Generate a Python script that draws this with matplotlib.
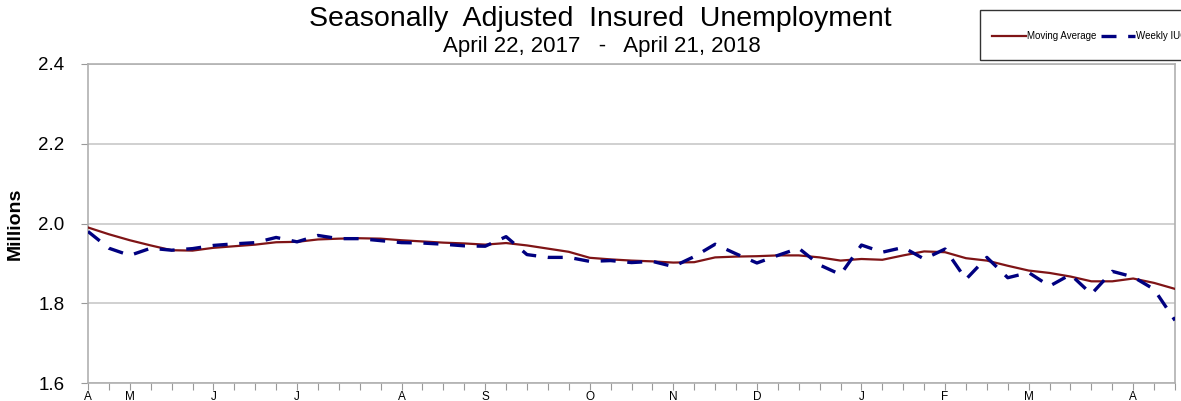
import numpy as np
import matplotlib.pyplot as plt
from matplotlib.patches import Rectangle

plt.rcParams['font.family'] = ['Liberation Sans', 'DejaVu Sans']

# weekly values, April 22 2017 .. April 21 2018 (millions)
moving_avg = [1.990, 1.973, 1.958, 1.945, 1.933, 1.932, 1.939, 1.943, 1.947, 1.953,
              1.954, 1.960, 1.962, 1.963, 1.962, 1.958, 1.955, 1.952, 1.950, 1.947,
              1.951, 1.945, 1.937, 1.929, 1.914, 1.910, 1.907, 1.905, 1.902, 1.903,
              1.915, 1.917, 1.918, 1.920, 1.920, 1.915, 1.907, 1.911, 1.909, 1.920,
              1.930, 1.928, 1.913, 1.907, 1.894, 1.882, 1.876, 1.867, 1.855, 1.855,
              1.862, 1.851, 1.836]
weekly = [1.980, 1.938, 1.920, 1.938, 1.933, 1.937, 1.945, 1.949, 1.952, 1.965,
          1.954, 1.970, 1.962, 1.962, 1.957, 1.952, 1.951, 1.948, 1.944, 1.943,
          1.967, 1.922, 1.915, 1.915, 1.905, 1.907, 1.902, 1.905, 1.892, 1.917,
          1.948, 1.924, 1.901, 1.920, 1.938, 1.896, 1.872, 1.946, 1.928, 1.940,
          1.911, 1.936, 1.860, 1.915, 1.864, 1.877, 1.843, 1.872, 1.823, 1.880,
          1.866, 1.835, 1.757]
month_weeks = [0, 2, 6, 10, 15, 19, 24, 28, 32, 37, 41, 45, 50]
month_labels = ['A', 'M', 'J', 'J', 'A', 'S', 'O', 'N', 'D', 'J', 'F', 'M', 'A']

weeks = np.arange(len(weekly))

fig = plt.figure(figsize=(11.81, 4.01), dpi=100)
ax = fig.add_axes([88/1181, 1-383/401, 1087/1181, 319/401])

ax.plot(weeks, moving_avg, color='#7f1416', lw=1.6, label='Moving Average', zorder=3)
ax.plot(weeks, weekly, color='#000080', lw=2.4, ls=(0, (4.5, 3.5)), label='Weekly IUC', zorder=4)

ax.set_xlim(0, len(weekly) - 1)
ax.set_ylim(1.6, 2.4)
ax.set_yticks([1.6, 1.8, 2.0, 2.2, 2.4])
ax.set_yticklabels(['1.6', '1.8', '2.0', '2.2', '2.4'], fontsize=13.5)
ax.yaxis.grid(True, color='#c8c8c8', lw=1.2)
ax.set_axisbelow(True)

labels = [''] * len(weekly)
for w, m in zip(month_weeks, month_labels):
    labels[w] = m
ax.set_xticks(weeks)
ax.set_xticklabels(labels, fontsize=8.5)
ax.tick_params(axis='x', length=5, color='#999999', pad=1)
ax.tick_params(axis='y', length=5, color='#999999', pad=12)

for s in ax.spines.values():
    s.set_color('#b0b0b0')
    s.set_linewidth(1.2)

ax.set_ylabel('Millions', fontsize=14, fontweight='bold', labelpad=10)

fig.text(0.508, 0.953, 'Seasonally  Adjusted  Insured  Unemployment', ha='center', va='center', fontsize=20.5)
fig.text(0.51, 0.883, 'April 22, 2017   -   April 21, 2018', ha='center', va='center', fontsize=16)

fig.patches.append(Rectangle((980/1181, 1-60/401), 0.25, 50/401, transform=fig.transFigure,
                             facecolor='white', edgecolor='#333333', lw=1, zorder=5))
leg = fig.legend(loc='center left', bbox_to_anchor=(983/1181, 1-36/401), ncol=2, frameon=False,
                 fontsize=7, handlelength=3.5, handletextpad=0.1, columnspacing=0.5)
leg.set_zorder(6)

fig.savefig('out.png', dpi=100)
